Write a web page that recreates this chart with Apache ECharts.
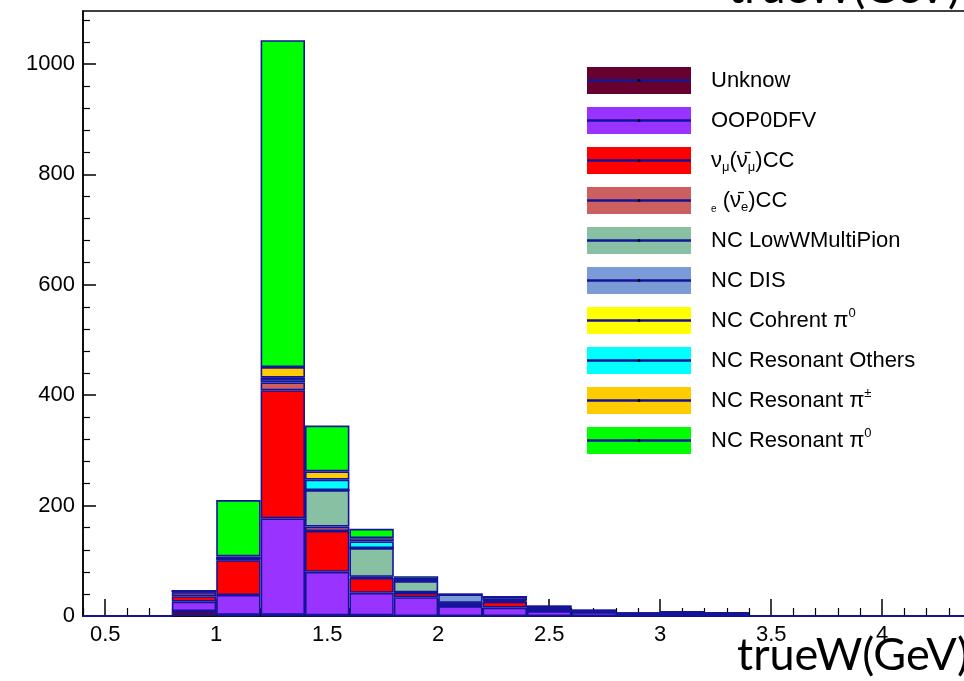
<!DOCTYPE html>
<html><head><meta charset="utf-8">
<script src="https://cdn.jsdelivr.net/npm/echarts@6/dist/echarts.min.js"></script>
<style>html,body{margin:0;padding:0;background:#fff;overflow:hidden;width:964px;height:681px}#c{width:1030px;height:681px}</style>
</head><body><div id="c"></div>
<script>
// ---- data ----
const binLow = [0.4,0.6,0.8,1.0,1.2,1.4,1.6,1.8,2.0,2.2,2.4,2.6,2.8,3.0,3.2,3.4,3.6,3.8,4.0,4.2,4.4];
const seriesNames = ['Unknow','OOP0DFV','numuCC','nueCC','NC LowWMultiPion','NC DIS','NC Cohrent pi0','NC Resonant Others','NC Resonant pipm','NC Resonant pi0'];
const unknow     = [0,0, 9,  2,   2,  1,  1,  0,  0,  0, 0, 0, 0, 0, 0, 0,0,0,0,0,0];
const oop0dfv    = [0,0,17, 36, 175, 79, 41, 34, 18, 15, 9, 7, 2, 2, 2, 0,0,0,0,0,0];
const numuCC     = [0,0,10, 63, 232, 74, 27,  8,  4, 11, 3, 1, 1, 0, 0, 0,0,0,0,0,0];
const nueCC      = [0,0, 7,  2,  14,  8,  2,  1,  1,  2, 1, 0, 0, 0, 0, 0,0,0,0,0,0];
const ncLowW     = [0,0, 1,  1,   6, 66, 52, 20,  1,  1, 0, 0, 0, 0, 0, 0,0,0,0,0,0];
const ncDIS      = [0,0, 1,  0,   1,  0,  0,  1, 15,  6, 4, 2, 2, 5, 4, 0,0,0,0,0,0];
const ncCohPi0   = [0,0, 0,  0,   0,  0,  0,  0,  0,  0, 0, 0, 0, 0, 0, 0,0,0,0,0,0];
const ncResOther = [0,0, 0,  1,   2, 19, 12,  1,  0,  0, 0, 0, 0, 0, 0, 0,0,0,0,0,0];
const ncResPiPM  = [0,0, 0,  3,  19, 15,  6,  1,  0,  0, 0, 0, 0, 0, 0, 0,0,0,0,0,0];
const ncResPi0   = [0,0, 0,102, 592, 83, 17,  6,  0,  0, 0, 0, 0, 0, 0, 0,0,0,0,0,0];
const xTickValues = [0.5,1,1.5,2,2.5,3,3.5,4,4.5];
const xTickLabels = ['0.5','1','1.5','2','2.5','3','3.5','4','4.5'];
const xMinorTicks = [0.4,0.6,0.7,0.8,0.9,1.1,1.2,1.3,1.4,1.6,1.7,1.8,1.9,2.1,2.2,2.3,2.4,2.6,2.7,2.8,2.9,3.1,3.2,3.3,3.4,3.6,3.7,3.8,3.9,4.1,4.2,4.3,4.4,4.6];
const yTickValues = [0,200,400,600,800,1000];
const yTickLabels = ['0','200','400','600','800','1000'];
const yMinorTicks = [40,80,120,160,240,280,320,360,440,480,520,560,640,680,720,760,840,880,920,960,1040,1080];
const xTitle = 'trueW(GeV)';
// ---- style ----
const seriesData = [unknow,oop0dfv,numuCC,nueCC,ncLowW,ncDIS,ncCohPi0,ncResOther,ncResPiPM,ncResPi0];
const colors = ['#66002e','#9933ff','#ff0000','#cc6060','#88c0a4','#7b9bd6','#ffff00','#00ffff','#ffcc00','#00ff00'];
const legendText = {
  'Unknow':'Unknow',
  'OOP0DFV':'OOP0DFV',
  'numuCC':'{n|ν}{sb|μ}{n|(ν̄}{sb|μ}{n|)CC}',
  'nueCC':'{lo|e}{n| (ν̄}{sb|e}{n|)CC}',
  'NC LowWMultiPion':'NC LowWMultiPion',
  'NC DIS':'NC DIS',
  'NC Cohrent pi0':'NC Cohrent π{sp|0}',
  'NC Resonant Others':'NC Resonant Others',
  'NC Resonant pipm':'NC Resonant π{sp|±}',
  'NC Resonant pi0':'NC Resonant π{sp|0}'
};
const FONT = '"Liberation Sans", Arial, sans-serif';
const NAVY = '#14149a';
const yMax = 1096;

const chart = echarts.init(document.getElementById('c'), null, {renderer:'canvas', width:1030, height:681});
const series = seriesNames.map((nm,i)=>({
  name:nm, type:'bar', stack:'all', xAxisIndex:0, yAxisIndex:0,
  barWidth:'100%', barGap:'0%', data:seriesData[i],
  itemStyle:{color:colors[i], borderColor:NAVY, borderWidth:1.6},
  emphasis:{disabled:true}
}));
const graphics = [
  {type:'text', x:737, y:633, style:{text:xTitle, font:'45px Lato', fill:'#000'}},
  {type:'text', x:728, y:-34, style:{text:xTitle, font:'45px Lato', fill:'#000'}}
];
seriesNames.forEach((nm,i)=>{
  const cy = 80.5 + 40*i;
  graphics.push({type:'line', shape:{x1:587,y1:cy,x2:691,y2:cy}, style:{stroke:NAVY, lineWidth:2.5}, z:100});
  graphics.push({type:'circle', shape:{cx:639,cy:cy,r:1.4}, style:{fill:'#000'}, z:101});
});
const option = {
  animation:false,
  grid:{left:83, top:11, width:932.4, height:605, show:true, borderColor:'#000', borderWidth:1.5, containLabel:false},
  xAxis:[
    {type:'category', data:binLow.map(String), show:false, position:'bottom', boundaryGap:true},
    {type:'value', min:0.4, max:4.6, position:'bottom',
      axisLine:{show:true, onZero:false, lineStyle:{color:'#000', width:1.5}},
      axisTick:{show:true, inside:true, length:17, customValues:xTickValues, lineStyle:{color:'#000', width:1.5}},
      axisLabel:{show:true, customValues:xTickValues, formatter:v=>xTickLabels[xTickValues.indexOf(v)], fontFamily:FONT, fontSize:22, color:'#000', margin:8},
      splitLine:{show:false}},
    {type:'value', min:0.4, max:4.6, position:'bottom',
      axisLine:{show:false},
      axisTick:{show:true, inside:true, length:8, customValues:xMinorTicks, lineStyle:{color:'#000', width:1.2}},
      axisLabel:{show:false}, splitLine:{show:false}}
  ],
  yAxis:[
    {type:'value', min:0, max:yMax, position:'left',
      axisLine:{show:true, lineStyle:{color:'#000', width:1.5}},
      axisTick:{show:true, inside:true, length:13, customValues:yTickValues, lineStyle:{color:'#000', width:1.5}},
      axisLabel:{show:true, customValues:yTickValues, formatter:v=>yTickLabels[yTickValues.indexOf(v)], fontFamily:FONT, fontSize:22, color:'#000', margin:8},
      splitLine:{show:false}},
    {type:'value', min:0, max:yMax, position:'left',
      axisLine:{show:false},
      axisTick:{show:true, inside:true, length:7, customValues:yMinorTicks, lineStyle:{color:'#000', width:1.2}},
      axisLabel:{show:false}, splitLine:{show:false}}
  ],
  legend:{
    orient:'vertical', left:587, top:67, padding:0, itemWidth:104, itemHeight:27, itemGap:13, icon:'rect',
    selectedMode:false, data:seriesNames,
    itemStyle:{borderWidth:0},
    formatter:nm=>legendText[nm],
    textStyle:{fontFamily:FONT, fontSize:22, color:'#000', lineHeight:27, padding:[0,0,0,15],
      rich:{
        n:{fontFamily:FONT, fontSize:22, lineHeight:27, color:'#000'},
        sb:{fontFamily:FONT, fontSize:13, lineHeight:14, verticalAlign:'bottom', color:'#000'},
        sp:{fontFamily:FONT, fontSize:13, lineHeight:14, verticalAlign:'top', color:'#000'},
        lo:{fontFamily:FONT, fontSize:10, lineHeight:10, verticalAlign:'bottom', color:'#000'}
      }}
  },
  graphic:graphics,
  series:series
};
chart.setOption(option);
</script></body></html>
